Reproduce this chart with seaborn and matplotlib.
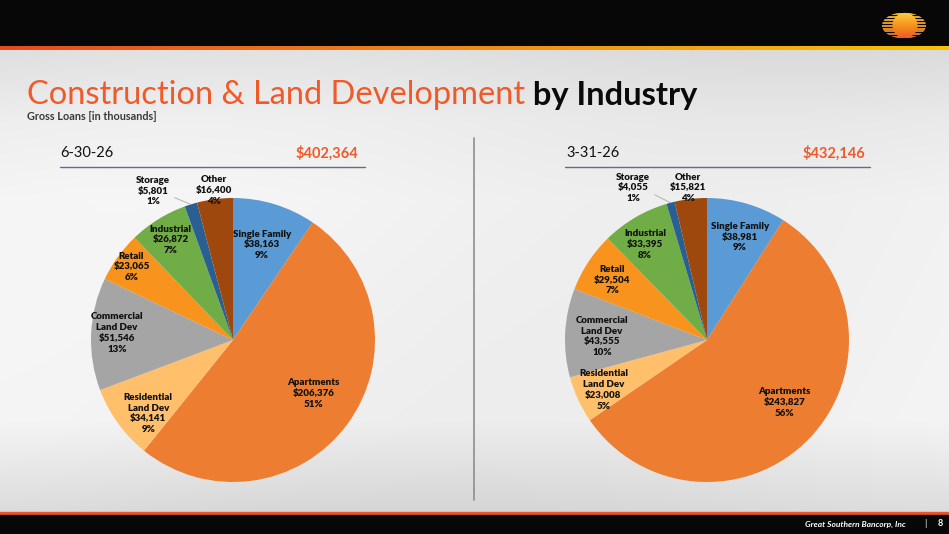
import numpy as np
import matplotlib
matplotlib.use("Agg")
import matplotlib.pyplot as plt
import seaborn as sns
from matplotlib.patches import Rectangle, Ellipse, Circle
from matplotlib.colors import LinearSegmentedColormap

# ---------------- data ----------------
categories = ["Single Family", "Apartments", "Residential\nLand Dev", "Commercial\nLand Dev",
              "Retail", "Industrial", "Storage", "Other"]
jun_values = [38163, 206376, 34141, 51546, 23065, 26872, 5801, 16400]
jun_pcts = ["9%", "51%", "9%", "13%", "6%", "7%", "1%", "4%"]
mar_values = [38981, 243827, 23008, 43555, 29504, 33395, 4055, 15821]
mar_pcts = ["9%", "56%", "5%", "10%", "7%", "8%", "1%", "4%"]
jun_label = "6-30-26"
mar_label = "3-31-26"
title_main = "Construction & Land Development"
title_bold = " by Industry"
subtitle = "Gross Loans [in thousands]"
footer = "Great Southern Bancorp, Inc"
page = "8"

# ---------------- style ----------------
sns.set_theme(style="white")
plt.rcParams["font.family"] = ["Lato", "DejaVu Sans"]
slice_colors = sns.color_palette(["#5B9BD5", "#ED7D31", "#FFBF6B", "#A5A5A5",
                                  "#F8941D", "#70AD47", "#2A5F94", "#9E480E"])
ORANGE = "#F05A28"
label_font = ["Lato", "DejaVu Sans"]
# per-slice label placement (radius factor, angle shift in degrees)
jun_lab_r = [0.70, 0.68, 0.79, 0.82, 0.88, 0.83, 1.19, 1.06]
jun_lab_dth = [0, 3, 5, -1, 0, 0, 11, 0]
mar_lab_r = [0.76, 0.70, 0.81, 0.74, 0.79, 0.80, 1.19, 1.08]
mar_lab_dth = [-1.5, 5, 1, 1, 1, 2.5, 11, 0.5]

W, H = 949, 534
fig = plt.figure(figsize=(W / 100, H / 100), dpi=100)

# ---------------- background / slide decoration ----------------
bg = fig.add_axes([0, 0, 1, 1], zorder=0)
bg.set_xlim(0, W)
bg.set_ylim(H, 0)
bg.axis("off")

yy = np.arange(H)[:, None]
xx = np.arange(W)[None, :]
Ly = np.interp(yy, [50, 120, 200, 420, 512], [0.87, 0.925, 0.95, 0.945, 0.85])
Lx = 0.015 * np.sin((xx + yy * 0.8) / 180.0)
L = np.clip(Ly + Lx, 0, 1)
img = np.dstack([L, L, L])
bg.imshow(img, extent=[0, W, H, 0], aspect="auto", zorder=0)

bg.add_patch(Rectangle((0, 0), W, 47, color="#070707", zorder=1))
band = np.linspace(0, 1, 256)[None, :]
cm_line = LinearSegmentedColormap.from_list("l", ["#E44B1E", "#F08A18", "#F6C200"])
bg.imshow(band, extent=[0, W, 50.5, 46.5], aspect="auto", cmap=cm_line, zorder=2)
bg.add_patch(Rectangle((0, 512), W, 2.5, color="#E8552A", zorder=1))
bg.add_patch(Rectangle((0, 514.5), W, H - 514.5, color="#070707", zorder=1))

# logo
ell = Ellipse((904, 25.5), 44, 26, facecolor="none", edgecolor="none", zorder=3)
bg.add_patch(ell)
cm_str = LinearSegmentedColormap.from_list("st", ["#F6C43A", "#E8782A"])
for k in range(9):
    y0 = 14.0 + k * 2.9
    ln, = bg.plot([880, 928], [y0, y0], color=cm_str(k / 8), lw=1.3, zorder=3,
                  solid_capstyle="butt")
    ln.set_clip_path(ell)
cm_sun = LinearSegmentedColormap.from_list("s", ["#FFD040", "#F7941D", "#EE5A24"])
sun = bg.imshow(np.linspace(0, 1, 64)[:, None], extent=[892, 918, 38.5, 12.5],
                aspect="auto", cmap=cm_sun, zorder=4)
circ = Circle((905, 25.5), 12.6, transform=bg.transData)
sun.set_clip_path(circ)

# title and subtitle
t1 = bg.text(27, 104, title_main, color=ORANGE, fontsize=23.5, va="baseline", ha="left",
             zorder=5)
bg.annotate(title_bold, xy=(1, 0), xycoords=t1, va="bottom", ha="left", fontsize=23.5,
            fontweight="bold", color="#0A0A0A", zorder=5)
bg.text(27, 117, subtitle, color="#3A3A3A", fontsize=7.8, fontweight="bold", va="center",
        ha="left", zorder=5)

# separators
bg.plot([474, 474], [138, 500], color="#8E8E8E", lw=1.2, zorder=3)
for x0, x1 in [(60, 365), (565, 870)]:
    bg.plot([x0, x1], [167, 167], color="#5B6E8A", lw=1.0, zorder=3)

# headers
for xl, xr, lab, vals in [(60, 358, jun_label, jun_values), (566, 865, mar_label, mar_values)]:
    bg.text(xl, 153, lab, fontsize=10.5, color="#111111", va="center", ha="left", zorder=5)
    bg.text(xr, 153, f"${sum(vals):,}", fontsize=10.5, color=ORANGE, fontweight="bold",
            va="center", ha="right", zorder=5)

# footer
bg.text(906, 524, footer, color="white", fontsize=6, fontweight="bold", style="italic",
        va="center", ha="right", zorder=5)
bg.text(925, 523.5, "|", color="white", fontsize=7, va="center", ha="center", zorder=5)
bg.text(940, 524, page, color="white", fontsize=6.5, fontweight="bold", va="center",
        ha="center", zorder=5)


# ---------------- pies ----------------
def draw_pie(cx, cy, R, values, pcts, lab_r, lab_dth):
    ax = fig.add_axes([(cx - R) / W, (H - cy - R) / H, 2 * R / W, 2 * R / H], zorder=2)
    ax.set_facecolor("none")
    wedges, _ = ax.pie(values, colors=slice_colors, startangle=90, counterclock=False,
                       radius=1, wedgeprops=dict(linewidth=0))
    ax.set_xlim(-1, 1)
    ax.set_ylim(-1, 1)
    ax.set_aspect("auto")
    ax.axis("off")
    for w, cat, v, p, r, dth in zip(wedges, categories, values, pcts, lab_r, lab_dth):
        mid = np.deg2rad((w.theta1 + w.theta2) / 2)
        ang = mid + np.deg2rad(dth)
        txt = f"{cat}\n${v:,}\n{p}"
        pos = (r * np.cos(ang), r * np.sin(ang))
        kw = dict(ha="center", va="center", fontsize=7, fontweight="heavy",
                  family=label_font, linespacing=1.25, color="#111111")
        if r > 1.12:
            ax.annotate(txt, xy=(np.cos(mid), np.sin(mid)), xytext=pos,
                        annotation_clip=False,
                        arrowprops=dict(arrowstyle="-", color="#A8A8A8", lw=0.6,
                                        shrinkA=1, shrinkB=0, relpos=(1.0, 0.35)), **kw)
        else:
            ax.text(*pos, txt, clip_on=False, **kw)
    return ax


draw_pie(233, 340, 142, jun_values, jun_pcts, jun_lab_r, jun_lab_dth)
draw_pie(707, 340, 142, mar_values, mar_pcts, mar_lab_r, mar_lab_dth)

fig.savefig("out.png", dpi=100)
